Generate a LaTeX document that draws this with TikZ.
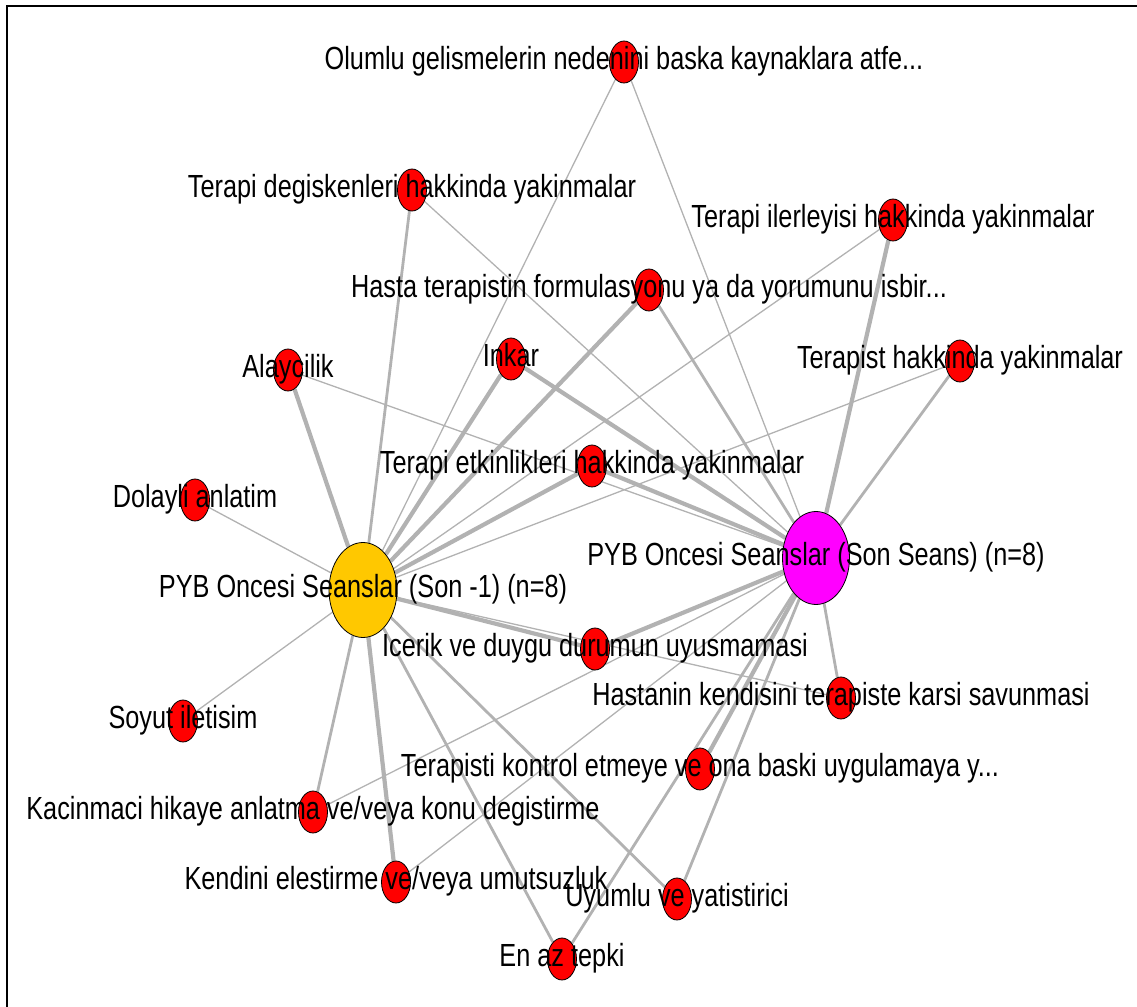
\documentclass[tikz,border=0pt]{standalone}
\usepackage{fontspec}
\setmainfont{Liberation Sans}[FakeStretch=0.79]
\usetikzlibrary{shapes.geometric,backgrounds}
\definecolor{edgegray}{RGB}{178,178,178}
\definecolor{codered}{RGB}{255,0,0}
\definecolor{sessyellow}{RGB}{255,200,0}
\definecolor{sessmagenta}{RGB}{255,0,255}
\tikzset{
  code/.style={ellipse, draw=black, line width=0.4pt, fill=codered,
    minimum width=14.5pt, minimum height=21pt, inner sep=0pt},
  sessA/.style={ellipse, draw=black, line width=0.4pt, fill=sessyellow,
    minimum width=34pt, minimum height=47.5pt, inner sep=0pt},
  sessB/.style={ellipse, draw=black, line width=0.4pt, fill=sessmagenta,
    minimum width=33.5pt, minimum height=46.5pt, inner sep=0pt},
  lab/.style={anchor=base, inner sep=0pt, text=black,
    font=\fontsize{16pt}{19pt}\selectfont},
  ethin/.style={draw=edgegray, line width=0.65pt},
  emid/.style={draw=edgegray, line width=1.4pt},
  ethick/.style={draw=edgegray, line width=2.1pt},
}
\begin{document}
\begin{tikzpicture}[x=0.5pt, y=-0.5pt]
\useasboundingbox (0,0) rectangle (1137,1007);
% frame
\draw[line width=1pt, black] (7,1010) -- (7,6) -- (1140,6);

% session nodes
\node[sessA] (Y) at (363,590) {};
\node[sessB] (M) at (816,558) {};

% code nodes
\node[code] (O)  at (624,62)  {};
\node[code] (TD) at (412,190) {};
\node[code] (TI) at (893,220) {};
\node[code] (HT) at (649,290) {};
\node[code] (AL) at (288,370) {};
\node[code] (IN) at (511,359) {};
\node[code] (TH) at (960,361) {};
\node[code] (TE) at (592,466) {};
\node[code] (DA) at (195,500) {};
\node[code] (IC) at (595,649) {};
\node[code] (HK) at (841,698) {};
\node[code] (TK) at (700,769) {};
\node[code] (SO) at (183,721) {};
\node[code] (KA) at (313,812) {};
\node[code] (KE) at (396,882) {};
\node[code] (UY) at (677,899) {};
\node[code] (EN) at (562,959) {};

% connectors
\begin{scope}[on background layer]
  \path[ethin]  (Y) -- (O);
  \path[emid]   (Y) -- (TD);
  \path[ethin]  (Y) -- (TI);
  \path[ethick] (Y) -- (HT);
  \path[ethick] (Y) -- (AL);
  \path[ethick] (Y) -- (IN);
  \path[ethin]  (Y) -- (TH);
  \path[ethick] (Y) -- (TE);
  \path[ethin]  (Y) -- (DA);
  \path[ethick] (Y) -- (IC);
  \path[ethin]  (Y) -- (HK);
  \path[ethin]  (Y) -- (SO);
  \path[emid]   (Y) -- (KA);
  \path[ethick] (Y) -- (KE);
  \path[emid]   (Y) -- (EN);
  \path[emid]   (Y) -- (UY);

  \path[ethin]  (M) -- (O);
  \path[ethin]  (M) -- (TD);
  \path[ethick] (M) -- (TI);
  \path[emid]   (M) -- (HT);
  \path[ethin]  (M) -- (AL);
  \path[ethick] (M) -- (IN);
  \path[emid]   (M) -- (TH);
  \path[ethick] (M) -- (TE);
  \path[ethick] (M) -- (IC);
  \path[emid]   (M) -- (HK);
  \path[ethick] (M) -- (TK);
  \path[emid]   (M) -- (UY);
  \path[emid]   (M) -- (EN);
  \path[ethin]  (M) -- (KE);
  \path[ethin]  (M) -- (KA);
\end{scope}

% labels
\node[lab] (lO)  at ([yshift=-3.5pt]O.center)  {Olumlu gelismelerin nedenini baska kaynaklara atfe...};
\node[lab] (lTD) at ([yshift=-3.5pt]TD.center) {Terapi degiskenleri hakkinda yakinmalar};
\node[lab] (lTI) at ([yshift=-3.5pt]TI.center) {Terapi ilerleyisi hakkinda yakinmalar};
\node[lab] (lHT) at ([yshift=-3.5pt]HT.center) {Hasta terapistin formulasyonu ya da yorumunu isbir...};
\node[lab] (lAL) at ([yshift=-3.5pt]AL.center) {Alaycilik};
\node[lab] (lIN) at ([yshift=-3.5pt]IN.center) {Inkar};
\node[lab] (lTH) at ([yshift=-3.5pt]TH.center) {Terapist hakkinda yakinmalar};
\node[lab] (lTE) at ([yshift=-3.5pt]TE.center) {Terapi etkinlikleri hakkinda yakinmalar};
\node[lab] (lDA) at ([yshift=-3.5pt]DA.center) {Dolayli anlatim};
\node[lab] (lY)  at ([yshift=-3.5pt]Y.center)  {PYB Oncesi Seanslar (Son -1) (n=8)};
\node[lab] (lM)  at ([yshift=-3.5pt]M.center)  {PYB Oncesi Seanslar (Son Seans) (n=8)};
\node[lab] (lIC) at ([yshift=-3.5pt]IC.center) {Icerik ve duygu durumun uyusmamasi};
\node[lab] (lHK) at ([yshift=-3.5pt]HK.center) {Hastanin kendisini terapiste karsi savunmasi};
\node[lab] (lTK) at ([yshift=-3.5pt]TK.center) {Terapisti kontrol etmeye ve ona baski uygulamaya y...};
\node[lab] (lSO) at ([yshift=-3.5pt]SO.center) {Soyut iletisim};
\node[lab] (lKA) at ([yshift=-3.5pt]KA.center) {Kacinmaci hikaye anlatma ve/veya konu degistirme};
\node[lab] (lKE) at ([yshift=-3.5pt]KE.center) {Kendini elestirme ve/veya umutsuzluk};
\node[lab] (lUY) at ([yshift=-3.5pt]UY.center) {Uyumlu ve yatistirici};
\node[lab] (lEN) at ([yshift=-3.5pt]EN.center) {En az tepki};
\end{tikzpicture}
\end{document}
